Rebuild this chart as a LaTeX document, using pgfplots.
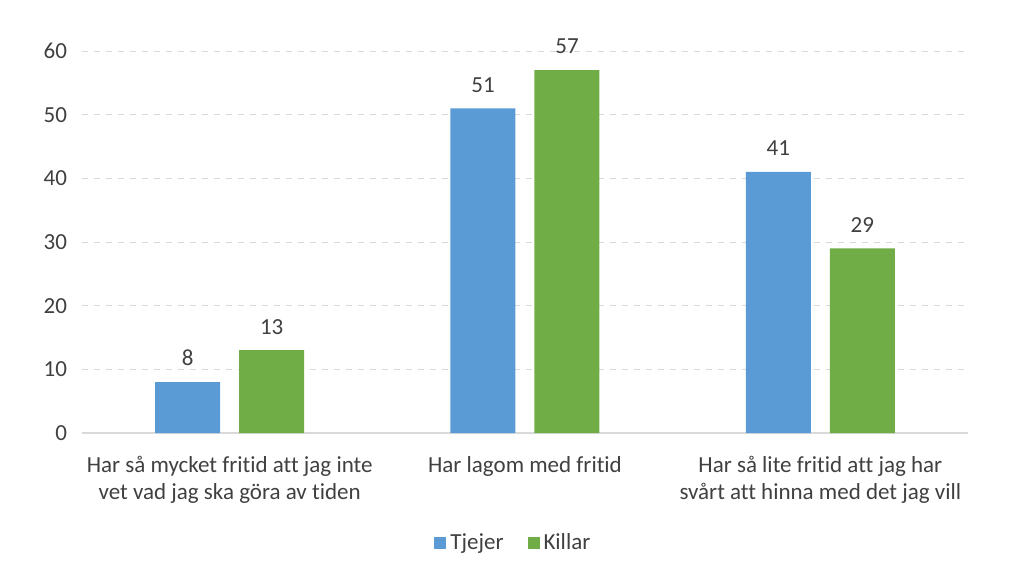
\documentclass[border=0pt]{standalone}
\usepackage{pgfplots}
\pgfplotsset{compat=1.18}
\usepackage{fontspec}
\setmainfont{Carlito}[Ligatures=NoCommon]
\definecolor{tj}{HTML}{5B9BD5}
\definecolor{ki}{HTML}{70AD47}
\definecolor{txt}{HTML}{404040}
\definecolor{gridc}{HTML}{D9D9D9}
\newcommand{\lbl}{\fontsize{11.5}{13.5}\selectfont}
\begin{document}
\begin{tikzpicture}
\begin{axis}[
  at={(0,0)}, anchor=south west,
  scale only axis, width=443pt, height=191pt,
  xmin=-0.5, xmax=2.5, ymin=0, ymax=60,
  xtick={0,1,2}, ytick={0,10,...,60},
  xticklabels={{Har så mycket fritid att jag inte\\vet vad jag ska göra av tiden},
               {Har lagom med fritid},
               {Har så lite fritid att jag har\\svårt att hinna med det jag vill}},
  xticklabel style={align=center, font=\lbl, text=txt, yshift=-8pt},
  yticklabel style={font=\lbl, text=txt, xshift=-4pt},
  /pgf/number format/assume math mode=true,
  axis y line=left, axis x line=bottom,
  y axis line style={draw=none},
  x axis line style={draw=gridc, line width=0.6pt, -},
  major tick length=0pt,
  ymajorgrids, grid style={gridc, dashed, line width=0.5pt},
  ybar, bar width=32.5pt,
  nodes near coords,
  every node near coord/.append style={font=\lbl, text=txt, yshift=4.5pt},
  legend columns=2,
  legend style={at={(0.488,-0.288)}, anchor=center, draw=none, fill=none,
    font=\lbl, text=txt,
    /tikz/every even column/.append style={column sep=10pt}},
  legend image code/.code={\fill[#1] (0pt,-3pt) rectangle (6pt,3pt);},
]
\addplot[fill=tj, draw=none, bar shift=-21pt] coordinates {(0,8) (1,51) (2,41)};
\addplot[fill=ki, draw=none, bar shift=21pt] coordinates {(0,13) (1,57) (2,29)};
\legend{Tjejer, Killar}
\end{axis}
\path[use as bounding box] (-41pt,-75.5pt) rectangle (471pt,216.5pt);
\end{tikzpicture}
\end{document}
